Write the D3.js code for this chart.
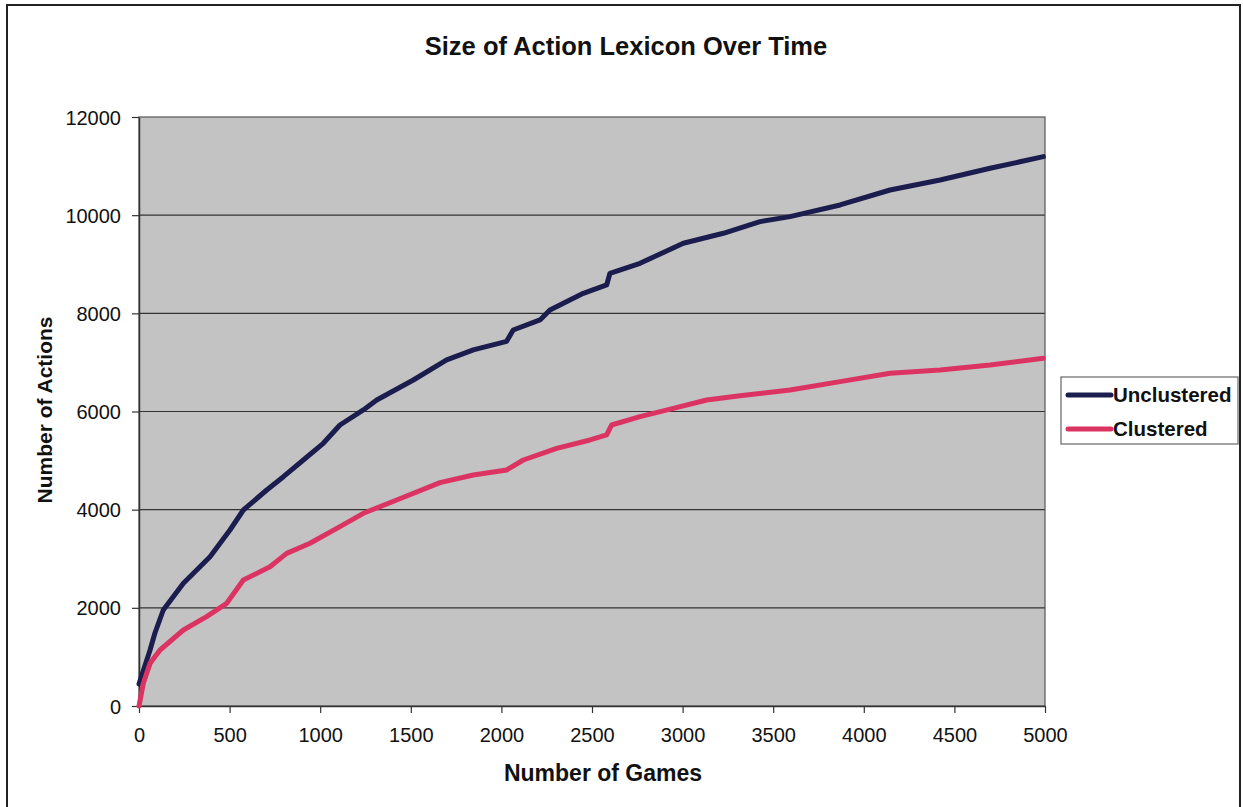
<!DOCTYPE html>
<html>
<head>
<meta charset="utf-8">
<script src="https://cdn.jsdelivr.net/npm/d3@7"></script>
<style>
  body { margin: 0; background: #fff; }
  text { font-family: "Liberation Sans", Arial, sans-serif; fill: #111; }
</style>
</head>
<body>
<svg id="chart"></svg>
<script>
var width = 1243;
var height = 807;

// values (games -> number of actions)
var unclusteredGames = [0, 61, 88, 134, 245, 392, 502, 576, 705, 797, 907, 1017, 1109, 1238, 1312, 1514, 1698, 1845, 2029, 2065, 2213, 2268, 2452, 2581, 2599, 2765, 3004, 3225, 3427, 3593, 3869, 4145, 4421, 4697, 4991];
var unclusteredActions = [450, 1141, 1487, 1956, 2500, 3042, 3586, 3993, 4401, 4672, 5012, 5352, 5725, 6031, 6235, 6642, 7050, 7254, 7430, 7660, 7865, 8068, 8408, 8578, 8816, 9020, 9427, 9631, 9868, 9970, 10208, 10513, 10717, 10955, 11192];

var clusteredGames = [0, 24, 61, 116, 245, 373, 484, 576, 723, 815, 944, 1109, 1238, 1422, 1661, 1845, 2029, 2121, 2305, 2489, 2581, 2608, 2765, 2949, 3133, 3317, 3593, 3869, 4145, 4421, 4697, 4991];
var clusteredActions = [0, 462, 869, 1141, 1548, 1820, 2092, 2567, 2838, 3110, 3315, 3654, 3926, 4197, 4550, 4707, 4808, 5012, 5250, 5420, 5522, 5725, 5895, 6065, 6235, 6320, 6438, 6608, 6778, 6846, 6948, 7084];

var xTicks = [0, 500, 1000, 1500, 2000, 2500, 3000, 3500, 4000, 4500, 5000];
var yTicks = [0, 2000, 4000, 6000, 8000, 10000, 12000];

var seriesNames = ['Unclustered', 'Clustered'];
var seriesColors = ['#1b1d4e', '#dc3462'];

var series = [
  { name: seriesNames[0], color: seriesColors[0], points: d3.zip(unclusteredGames, unclusteredActions) },
  { name: seriesNames[1], color: seriesColors[1], points: d3.zip(clusteredGames, clusteredActions) }
];

var plotLeft = 139, plotRight = 1045, plotTop = 117, plotBottom = 706;

var svg = d3.select('#chart')
    .attr('width', width)
    .attr('height', height);

// outer chart border
svg.append('rect')
    .attr('x', 7).attr('y', 5)
    .attr('width', 1233).attr('height', 820)
    .attr('fill', 'none')
    .attr('stroke', '#222')
    .attr('stroke-width', 2);

var xScale = d3.scaleLinear()
    .domain([0, 5000])
    .range([plotLeft, plotRight]);

var yScale = d3.scaleLinear()
    .domain([0, 12000])
    .range([plotBottom, plotTop]);

// plot background
svg.append('rect')
    .attr('x', plotLeft).attr('y', plotTop)
    .attr('width', plotRight - plotLeft)
    .attr('height', plotBottom - plotTop)
    .attr('fill', '#c3c3c3');

// grid lines
svg.append('g')
  .selectAll('line')
  .data(yTicks.filter(d => d > 0 && d < 12000))
  .enter()
  .append('line')
    .attr('x1', plotLeft).attr('x2', plotRight)
    .attr('y1', d => yScale(d)).attr('y2', d => yScale(d))
    .attr('stroke', '#333')
    .attr('stroke-width', 1.2);

svg.append('rect')
    .attr('x', plotLeft).attr('y', plotTop)
    .attr('width', plotRight - plotLeft)
    .attr('height', plotBottom - plotTop)
    .attr('fill', 'none')
    .attr('stroke', '#555')
    .attr('stroke-width', 1.2);

// axes
var fmt = d3.format('d');

var xAxis = svg.append('g')
    .attr('transform', 'translate(0,' + plotBottom + ')')
    .call(d3.axisBottom(xScale).tickValues(xTicks).tickFormat(fmt).tickSize(7).tickSizeOuter(0).tickPadding(15));

var yAxis = svg.append('g')
    .attr('transform', 'translate(' + plotLeft + ',0)')
    .call(d3.axisLeft(yScale).tickValues(yTicks).tickFormat(fmt).tickSize(7).tickSizeOuter(0).tickPadding(11));

[xAxis, yAxis].forEach(function(ax) {
  ax.select('.domain').attr('stroke', '#333').attr('stroke-width', 1.5);
  ax.selectAll('.tick line').attr('stroke', '#333').attr('stroke-width', 1.2);
  ax.selectAll('.tick text')
    .attr('fill', '#111')
    .style('font-family', '"Liberation Sans", Arial, sans-serif')
    .style('font-size', '20px');
});
yAxis.selectAll('.tick text').attr('dy', '0.35em');

// lines
var line = d3.line()
    .x(d => xScale(d[0]))
    .y(d => yScale(d[1]));

svg.append('g')
  .selectAll('path')
  .data(series)
  .enter()
  .append('path')
    .attr('d', d => line(d.points))
    .attr('fill', 'none')
    .attr('stroke', d => d.color)
    .attr('stroke-width', 5)
    .attr('stroke-linejoin', 'round')
    .attr('stroke-linecap', 'round');

// title and axis titles
svg.append('text')
    .attr('x', 626).attr('y', 55)
    .attr('text-anchor', 'middle')
    .style('font-size', '25.5px')
    .style('font-weight', 'bold')
    .text('Size of Action Lexicon Over Time');

svg.append('text')
    .attr('x', 603).attr('y', 781)
    .attr('text-anchor', 'middle')
    .style('font-size', '23px')
    .style('font-weight', 'bold')
    .text('Number of Games');

svg.append('text')
    .attr('transform', 'translate(52,410) rotate(-90)')
    .attr('text-anchor', 'middle')
    .style('font-size', '21px')
    .style('font-weight', 'bold')
    .text('Number of Actions');

// legend
var legend = svg.append('g');
legend.append('rect')
    .attr('x', 1061).attr('y', 377)
    .attr('width', 177).attr('height', 67)
    .attr('fill', '#fff')
    .attr('stroke', '#666')
    .attr('stroke-width', 1.2);

var items = legend.selectAll('.item')
    .data(series)
    .enter()
    .append('g')
    .attr('transform', (d, i) => 'translate(1068,' + (395 + i * 34) + ')');

items.append('line')
    .attr('x1', 0).attr('x2', 43)
    .attr('stroke', d => d.color)
    .attr('stroke-width', 5)
    .attr('stroke-linecap', 'round');

items.append('text')
    .attr('x', 45).attr('dy', '0.35em')
    .style('font-size', '20.5px')
    .style('font-weight', 'bold')
    .text(d => d.name);
</script>
</body>
</html>
